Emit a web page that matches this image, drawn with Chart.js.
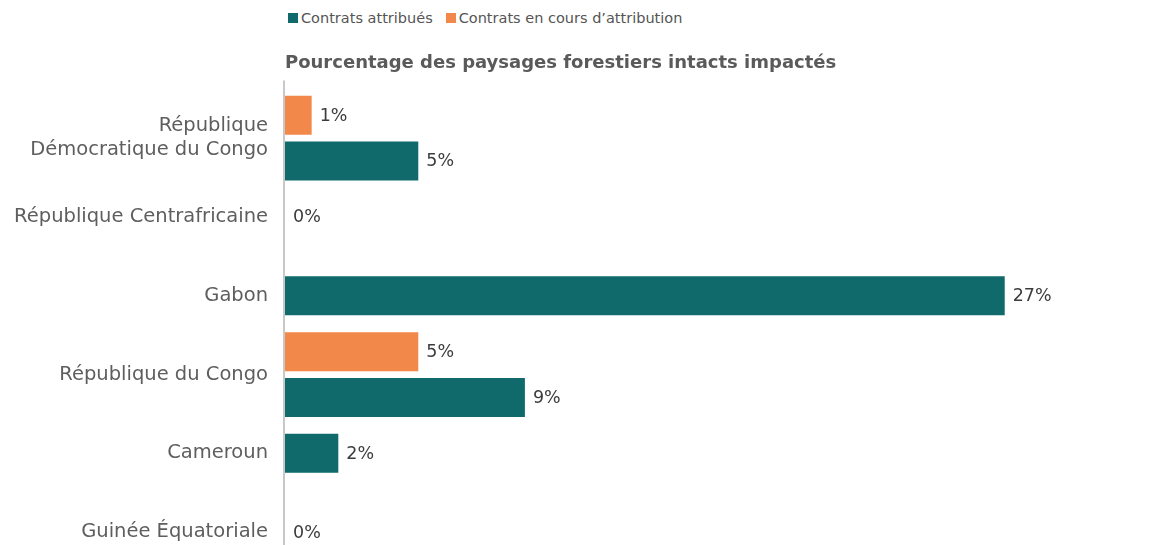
<!DOCTYPE html>
<html lang="fr">
<head>
  <meta charset="UTF-8" />
  <title>Paysages forestiers intacts impactés</title>
  <script src="https://cdn.jsdelivr.net/npm/chart.js"></script>
  <style>
    html, body { margin: 0; padding: 0; background: #fff; overflow: hidden; }
    body { width: 1151px; height: 545px; position: relative; font-family: "DejaVu Sans", sans-serif; }
    #legend { position: absolute; left: 288px; top: 10px; display: flex; font-size: 14.5px; color: #555; }
    #legend .item { display: flex; align-items: center; margin-right: 13px; }
    #legend .box { width: 10px; height: 10px; margin-right: 3px; }
    #wrap { position: absolute; left: 0; top: 0; width: 1151px; height: 612px; }
  </style>
</head>
<body>
  <div id="legend"></div>
  <div id="wrap"><canvas id="chart" width="1151" height="612"></canvas></div>

  <script>
    // Pays (libellés de l'axe vertical)
    const countries = [
      ['République', 'Démocratique du Congo'],
      'République Centrafricaine',
      'Gabon',
      'République du Congo',
      'Cameroun',
      'Guinée Équatoriale'
    ];
    // % des paysages forestiers intacts impactés
    const attribues = [5, 0, 27, 9, 2, 0];
    const enCours = [1, null, null, 5, null, null];

    const seriesNames = ['Contrats attribués', 'Contrats en cours d\u2019attribution'];
    const seriesColors = ['#106a6c', '#f2894a'];

    const FONT = '"DejaVu Sans", sans-serif';

    // légende en HTML
    const legendDiv = document.getElementById('legend');
    seriesNames.forEach((name, i) => {
      legendDiv.innerHTML += `<div class="item"><span class="box" style="background:${seriesColors[i]}"></span>${name}</div>`;
    });

    // axe vertical qui remonte un peu au-dessus de la zone des barres
    const axisLine = {
      id: 'axisLine',
      beforeDatasetsDraw(chart) {
        const { ctx, chartArea } = chart;
        ctx.save();
        ctx.strokeStyle = '#c8c8c8';
        ctx.lineWidth = 2;
        ctx.beginPath();
        ctx.moveTo(chartArea.left - 1, chartArea.top - 18);
        ctx.lineTo(chartArea.left - 1, chartArea.bottom);
        ctx.stroke();
        ctx.restore();
      }
    };

    // valeurs en % au bout des barres
    const valueLabels = {
      id: 'valueLabels',
      afterDatasetsDraw(chart) {
        const { ctx } = chart;
        ctx.save();
        ctx.font = '17.5px ' + FONT;
        ctx.fillStyle = '#3c3c3c';
        ctx.textAlign = 'left';
        ctx.textBaseline = 'middle';
        chart.data.datasets.forEach((ds, di) => {
          const meta = chart.getDatasetMeta(di);
          meta.data.forEach((bar, i) => {
            const v = ds.data[i];
            if (v === null || v === undefined) return;
            ctx.fillText(v + '%', bar.x + 8, bar.y + 1);
          });
        });
        ctx.restore();
      }
    };

    new Chart(document.getElementById('chart'), {
      type: 'bar',
      data: {
        labels: countries,
        datasets: [
          { label: seriesNames[1], data: enCours, backgroundColor: seriesColors[1], clip: false },
          { label: seriesNames[0], data: attribues, backgroundColor: seriesColors[0], clip: false }
        ]
      },
      options: {
        indexAxis: 'y',
        responsive: false,
        animation: false,
        skipNull: true,
        categoryPercentage: 1.16,
        barPercentage: 0.9,
        maxBarThickness: 39,
        layout: { padding: { top: 41, right: 13, bottom: 16, left: 0 } },
        plugins: {
          legend: { display: false },
          tooltip: { enabled: false },
          title: {
            display: true,
            text: 'Pourcentage des paysages forestiers intacts impactés',
            align: 'start',
            fullSize: false,
            color: '#5a5a5a',
            font: { family: FONT, size: 18, weight: 'bold' },
            padding: { top: 12, bottom: 24 }
          }
        },
        scales: {
          x: { display: false, min: 0, max: 32 },
          y: {
            grid: { display: false, drawTicks: false },
            border: { display: false },
            ticks: {
              color: '#5e5e5e',
              font: { family: FONT, size: 19.5 },
              padding: 17
            },
            afterFit(scale) { scale.width = 285; }
          }
        }
      },
      plugins: [axisLine, valueLabels]
    });
  </script>
</body>
</html>
